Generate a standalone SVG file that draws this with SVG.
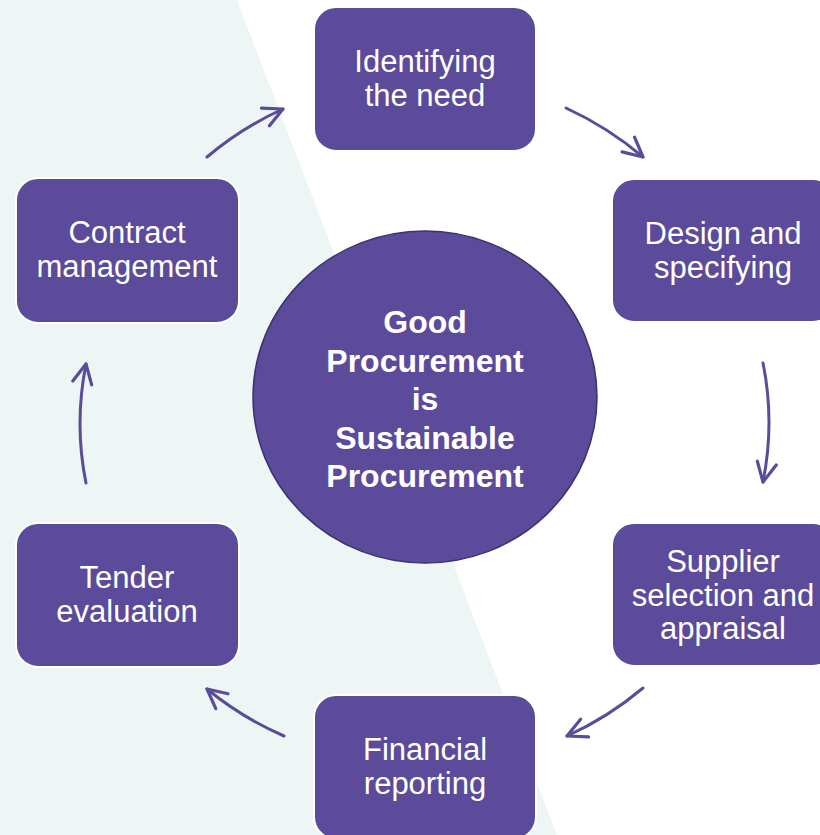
<svg xmlns="http://www.w3.org/2000/svg" width="820" height="835" viewBox="0 0 820 835">
  <style>
    .node { fill: #5B4B9A; stroke: #FFFFFF; stroke-width: 2; }
    .label { font-family: "Liberation Sans", Arial, sans-serif; font-size: 31px; fill: #FFFFFF; text-anchor: middle; }
    .center { font-family: "Liberation Sans", Arial, sans-serif; font-size: 32px; font-weight: bold; fill: #FFFFFF; text-anchor: middle; }
    .conn { fill: none; stroke: #5B4B9A; stroke-width: 3; stroke-linecap: round; }
  </style>
  <defs>
    <marker id="arrow" markerUnits="userSpaceOnUse" markerWidth="30" markerHeight="30" viewBox="-22 -14 26 28" refX="0" refY="0" orient="auto">
      <path d="M-18,-9 L0,0 L-18,9" fill="none" stroke="#5B4B9A" stroke-width="3" stroke-linecap="round" stroke-linejoin="round"/>
    </marker>
  </defs>
  <rect width="820" height="835" fill="#FFFFFF"/>
  <polygon points="0,0 237,0 557,835 0,835" fill="#EEF6F5"/>

  <g id="connectors">
    <path class="conn" d="M207,157 Q241.5,127.8 283,109" marker-end="url(#arrow)"/>
    <path class="conn" d="M566,108 Q608,127.3 643,157" marker-end="url(#arrow)"/>
    <path class="conn" d="M763,363 Q775,422 763,482" marker-end="url(#arrow)"/>
    <path class="conn" d="M643,688 Q608,717.5 567,736" marker-end="url(#arrow)"/>
    <path class="conn" d="M284,736 Q242.4,718 207,689" marker-end="url(#arrow)"/>
    <path class="conn" d="M86,483 Q74,424 86,364" marker-end="url(#arrow)"/>
  </g>

  <g id="center">
    <ellipse cx="425" cy="397" rx="172" ry="166" fill="#5B4B9A" stroke="#3E3170" stroke-width="1.5"/>
    <text class="center" x="425" y="333">Good</text>
    <text class="center" x="425" y="371.5">Procurement</text>
    <text class="center" x="425" y="410">is</text>
    <text class="center" x="425" y="448.5">Sustainable</text>
    <text class="center" x="425" y="487">Procurement</text>
  </g>

  <g id="identifying">
    <rect class="node" x="314" y="7" width="222" height="144" rx="22"/>
    <text class="label" x="425" y="72">Identifying</text>
    <text class="label" x="425" y="106">the need</text>
  </g>

  <g id="design">
    <rect class="node" x="612" y="179" width="223" height="143" rx="22"/>
    <text class="label" x="723" y="244">Design and</text>
    <text class="label" x="723" y="278">specifying</text>
  </g>

  <g id="supplier">
    <rect class="node" x="612" y="523" width="223" height="143" rx="22"/>
    <text class="label" x="723" y="572">Supplier</text>
    <text class="label" x="723" y="606">selection and</text>
    <text class="label" x="723" y="639">appraisal</text>
  </g>

  <g id="financial">
    <rect class="node" x="314" y="695" width="222" height="144" rx="22"/>
    <text class="label" x="425" y="760">Financial</text>
    <text class="label" x="425" y="794">reporting</text>
  </g>

  <g id="tender">
    <rect class="node" x="16" y="523" width="223" height="144" rx="22"/>
    <text class="label" x="127" y="588">Tender</text>
    <text class="label" x="127" y="622">evaluation</text>
  </g>

  <g id="contract">
    <rect class="node" x="16" y="178" width="223" height="145" rx="22"/>
    <text class="label" x="127" y="243">Contract</text>
    <text class="label" x="127" y="277">management</text>
  </g>
</svg>
